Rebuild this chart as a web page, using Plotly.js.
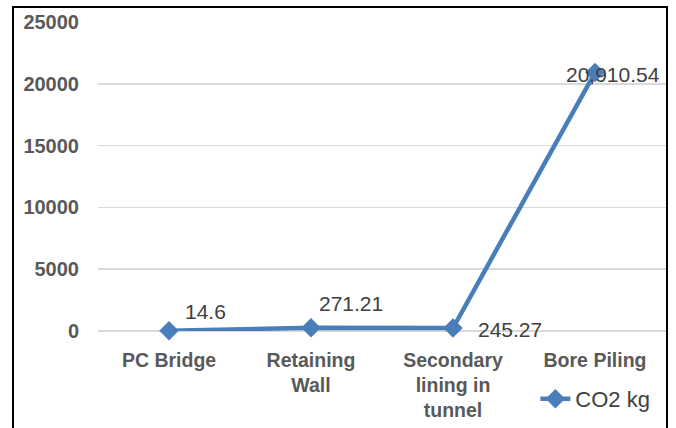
<!DOCTYPE html>
<html>
<head>
<meta charset="utf-8">
<script src="https://cdn.plot.ly/plotly-3.0.1.min.js"></script>
<style>
  html, body { margin: 0; padding: 0; width: 676px; height: 428px; overflow: hidden; background: #fff; }
  #chart { width: 676px; height: 428px; }
  #frame { position: absolute; left: 12px; top: 6px; width: 652px; height: 440px; border: 2px solid #000; pointer-events: none; box-sizing: content-box; }
</style>
</head>
<body>
<div id="chart"></div>
<div id="frame"></div>
<script>
const categories = ["PC Bridge", "Retaining<br>Wall", "Secondary<br>lining in<br>tunnel", "Bore Piling"];
const co2Values = [14.6, 271.21, 245.27, 20910.54];
const valueLabels = ["14.6", "271.21", "245.27", "20,910.54"];
const yTickVals = [0, 5000, 10000, 15000, 20000, 25000];
const seriesName = "CO2 kg";

const labelShift = [[36, 19], [40, 24], [57, -2], [18, -2]];

const lineColor = "#4a7ebb";

const trace = {
  x: categories,
  y: co2Values,
  type: "scatter",
  mode: "lines+markers",
  name: seriesName,
  line: { color: lineColor, width: 4.5 },
  marker: { symbol: "diamond", size: 15, color: lineColor },
  cliponaxis: false
};

const annotations = co2Values.map((v, i) => ({
  x: categories[i], y: v, xref: "x", yref: "y",
  text: valueLabels[i], showarrow: false,
  xshift: labelShift[i][0], yshift: labelShift[i][1],
  font: { family: "Liberation Sans, Arial, sans-serif", size: 21, color: "#404040" }
}));

const layout = {
  width: 676, height: 428,
  margin: { l: 98, r: 10, t: 22, b: 97, autoexpand: false },
  paper_bgcolor: "#ffffff", plot_bgcolor: "#ffffff",
  showlegend: true,
  legend: {
    x: 0.77, y: -0.22, xanchor: "left", yanchor: "middle",
    bgcolor: "rgba(0,0,0,0)",
    font: { family: "Liberation Sans, Arial, sans-serif", size: 22, color: "#404040" }
  },
  xaxis: {
    type: "category",
    range: [-0.5, 3.5],
    automargin: false,
    showgrid: false, zeroline: false, showline: false,
    ticks: "",
    tickfont: { family: "Liberation Sans, Arial, sans-serif", size: 19.5, color: "#595959", weight: "bold" },
    ticklabelstandoff: 15
  },
  yaxis: {
    range: [0, 25000],
    automargin: false,
    tickvals: yTickVals,
    ticktext: yTickVals.map(v => String(v)),
    showgrid: true, gridcolor: "#d9d9d9", gridwidth: 1.5,
    zeroline: true, zerolinecolor: "#d9d9d9", zerolinewidth: 1.5,
    showline: false, ticks: "",
    tickfont: { family: "Liberation Sans, Arial, sans-serif", size: 20, color: "#595959", weight: "bold" },
    ticklabelstandoff: 18
  },
  annotations: annotations
};

Plotly.newPlot("chart", [trace], layout, { displayModeBar: false, staticPlot: true });
</script>
</body>
</html>
